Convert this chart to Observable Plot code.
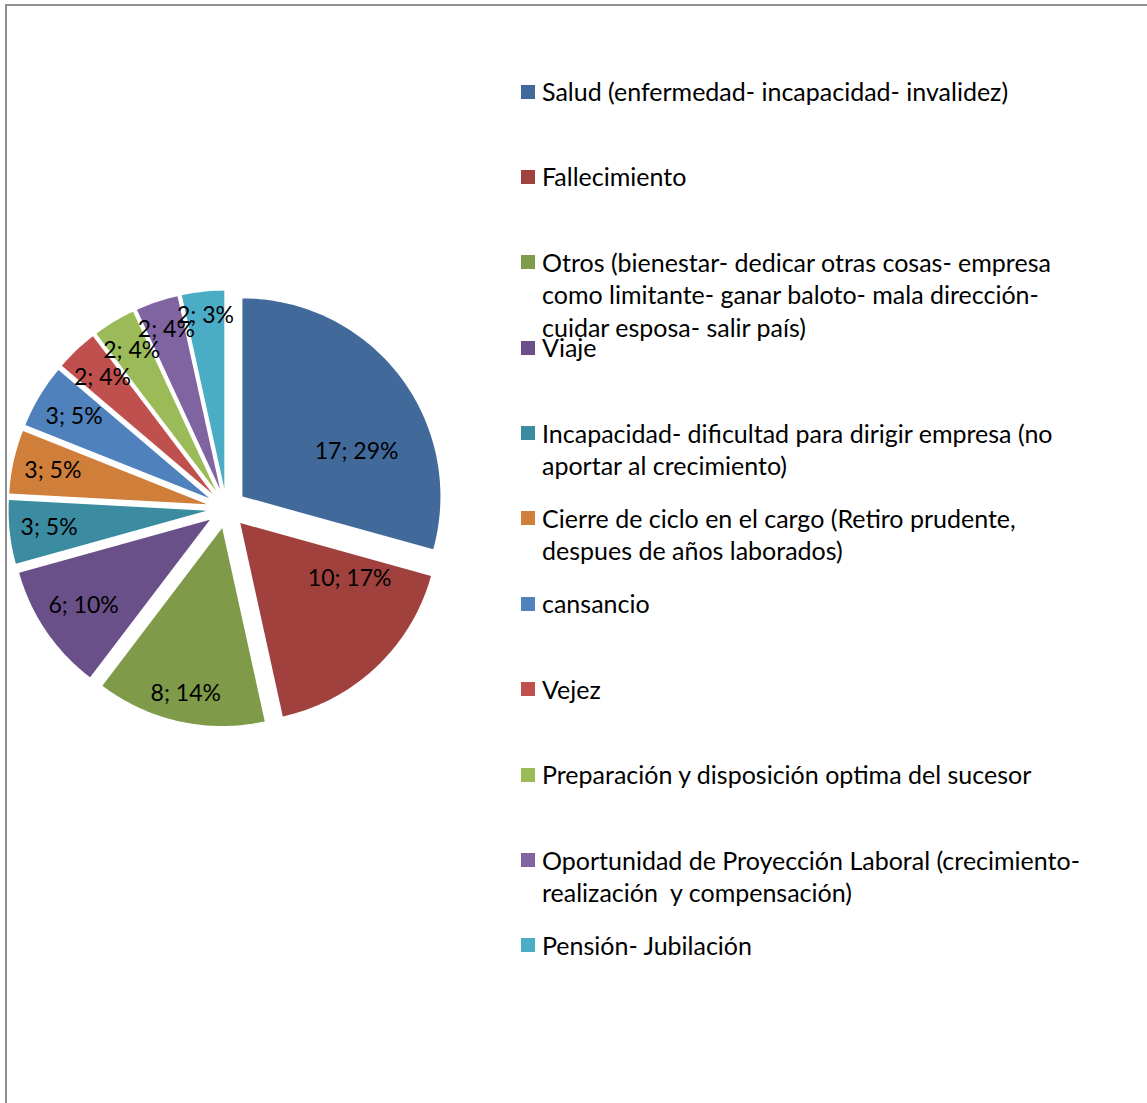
<!DOCTYPE html>
<html>
<head>
<meta charset="utf-8">
<script src="https://cdn.jsdelivr.net/npm/d3@7"></script>
<script src="https://cdn.jsdelivr.net/npm/@observablehq/plot@0.6"></script>
<style>
  html, body { margin: 0; padding: 0; background: #fff; width: 1147px; height: 1103px; overflow: hidden; }
  #frame { position: absolute; left: 5px; top: 4px; width: 1300px; height: 1300px;
           border-left: 2px solid #8f8f8f; border-top: 2px solid #8f8f8f; }
  #chart { position: absolute; left: 0; top: 0; }
  #legend { position: absolute; left: 521px; top: 75px; width: 620px;
            font-family: Lato, "Open Sans", sans-serif; font-size: 25px; color: #000; }
  .item { height: 85.4px; display: flex; align-items: flex-start; line-height: 32.5px; }
  .sw { width: 14px; height: 14px; flex: none; margin-top: 9.5px; margin-right: 7px; }
  .txt { white-space: pre; }
</style>
</head>
<body>
<div id="frame"></div>
<div id="chart"></div>
<div id="legend"></div>
<script>
// ---- data ----
const legendLines = [
  ["Salud (enfermedad- incapacidad- invalidez)"],
  ["Fallecimiento"],
  ["Otros (bienestar- dedicar otras cosas- empresa", "como limitante- ganar baloto- mala dirección-", "cuidar esposa- salir país)"],
  ["Viaje"],
  ["Incapacidad- dificultad para dirigir empresa (no", "aportar al crecimiento)"],
  ["Cierre de ciclo en el cargo (Retiro prudente,", "despues de años laborados)"],
  ["cansancio"],
  ["Vejez"],
  ["Preparación y disposición optima del sucesor"],
  ["Oportunidad de Proyección Laboral (crecimiento-", "realización  y compensación)"],
  ["Pensión- Jubilación"]
];
const categories = legendLines.map(l => l.join(" "));
const values = [17, 10, 8, 6, 3, 3, 3, 2, 2, 2, 2];
const percentLabels = ["29%", "17%", "14%", "10%", "5%", "5%", "5%", "4%", "4%", "4%", "3%"];
const colors = ["#416a9b", "#a0413e", "#7f9b4a", "#6a5088", "#3b8ca1", "#d07f3a",
                "#4f81bd", "#c0504d", "#9bbb59", "#8064a2", "#4bacc6"];

// ---- geometry ----
const W = 480, H = 1103;
const CX = 226, CY = 508;      // pie centre within the svg
const R = 198, EXPLODE = 20;
const LABEL_FONT = "23px Lato, 'Open Sans', sans-serif";
const LABEL_H = 22, PAD = 10;

const ctx = document.createElement("canvas").getContext("2d");
ctx.font = LABEL_FONT;

const slices = d3.pie().sort(null).value(d => d.value)(
  categories.map((name, i) => ({name, value: values[i], pct: percentLabels[i]}))
);
const total = d3.sum(values);

const polyPoints = [];
const labelPoints = [];
for (const s of slices) {
  const mid = (s.startAngle + s.endAngle) / 2;
  const ax = EXPLODE * Math.sin(mid), ay = -EXPLODE * Math.cos(mid);
  polyPoints.push({name: s.data.name, x: ax, y: ay});
  const n = Math.max(4, Math.ceil((s.endAngle - s.startAngle) / (Math.PI / 180)));
  for (let k = 0; k <= n; k++) {
    const t = s.startAngle + (s.endAngle - s.startAngle) * k / n;
    polyPoints.push({name: s.data.name, x: ax + R * Math.sin(t), y: ay - R * Math.cos(t)});
  }
  const text = `${s.data.value}; ${s.data.pct}`;
  const w = ctx.measureText(text).width;
  const big = s.data.value / total > 0.15;
  let la, lr;
  if (big) {
    // large slices: label near the middle, pulled toward the horizontal
    const side = mid < Math.PI ? Math.PI / 2 : 3 * Math.PI / 2;
    la = mid + (side - mid) * 0.42;
    lr = 0.62 * R;
  } else {
    // small slices: label box fitted inside the rim
    la = mid;
    lr = R - PAD - (Math.abs(Math.sin(mid)) * w / 2 + Math.abs(Math.cos(mid)) * LABEL_H / 2);
  }
  labelPoints.push({name: s.data.name, x: ax + lr * Math.sin(la), y: ay - lr * Math.cos(la), text});
}

const chart = Plot.plot({
  width: W,
  height: H,
  margin: 0,
  x: {domain: [-CX, W - CX], axis: null},
  y: {domain: [-CY, H - CY], reverse: true, axis: null},
  color: {domain: categories, range: colors},
  style: {background: "transparent", overflow: "visible"},
  marks: [
    Plot.line(polyPoints, {x: "x", y: "y", z: "name", fill: "name", stroke: "none", curve: "linear-closed"}),
    Plot.text(labelPoints, {x: "x", y: "y", text: "text", fill: "#000", fontSize: 23,
                            fontFamily: "Lato, 'Open Sans', sans-serif", textAnchor: "middle", lineAnchor: "middle"})
  ]
});
document.getElementById("chart").appendChild(chart);

// ---- legend ----
const legend = document.getElementById("legend");
legendLines.forEach((lines, i) => {
  const item = document.createElement("div");
  item.className = "item";
  const sw = document.createElement("div");
  sw.className = "sw";
  sw.style.background = colors[i];
  const txt = document.createElement("div");
  txt.className = "txt";
  txt.textContent = lines.join("\n");
  item.appendChild(sw);
  item.appendChild(txt);
  legend.appendChild(item);
});
</script>
</body>
</html>
